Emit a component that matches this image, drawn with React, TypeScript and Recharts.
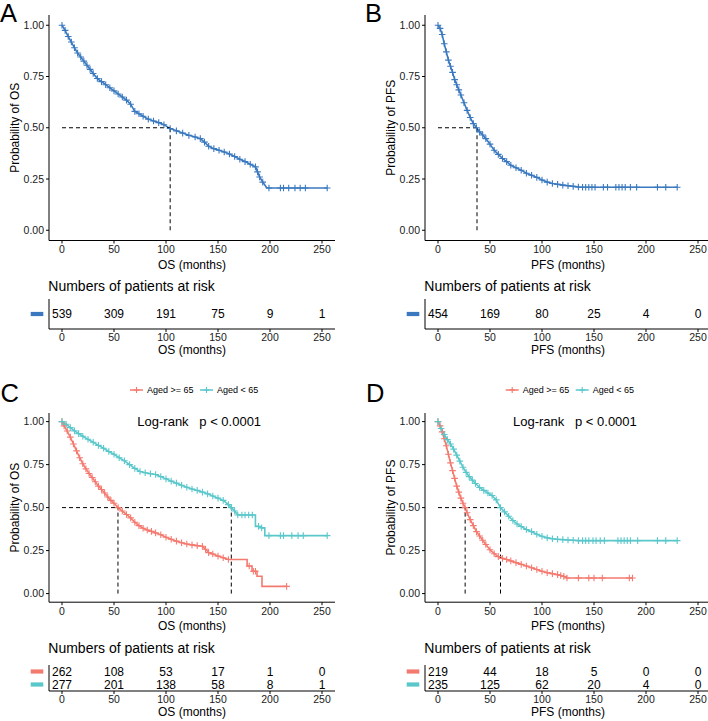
import React from "react";
import { ComposedChart, Line, XAxis, YAxis, ReferenceLine, ScatterChart, Scatter } from "recharts";

const BLUE = "#3A79BF";
const RED = "#F47A70";
const CYAN = "#5AC7CB";
const FONT = "'Liberation Sans', Arial, Helvetica, sans-serif";

const MONTH_TICKS = [0, 50, 100, 150, 200, 250];
const PROB_TICKS = [0, 0.25, 0.5, 0.75, 1];
const riskTimes = [0, 50, 100, 150, 200, 250];

// A - overall OS
const osAllTime = [0, 3, 6, 9, 12, 15, 18, 21, 24, 27, 30, 34, 38, 42, 46, 50, 54, 58, 62, 66, 70, 74, 78, 83, 88, 93, 98, 104, 110, 116, 122, 128, 133, 137, 141, 146, 151, 156, 161, 166, 171, 176, 181, 186, 188, 190, 193, 197, 199, 210, 213, 218, 224, 229, 234, 255];
const osAllSurv = [1.0, 0.975, 0.945, 0.918, 0.89, 0.865, 0.845, 0.825, 0.805, 0.785, 0.765, 0.74, 0.725, 0.71, 0.695, 0.68, 0.665, 0.65, 0.635, 0.615, 0.58, 0.568, 0.556, 0.542, 0.533, 0.525, 0.515, 0.496, 0.485, 0.474, 0.463, 0.455, 0.447, 0.43, 0.41, 0.398, 0.39, 0.382, 0.372, 0.36, 0.346, 0.335, 0.322, 0.309, 0.285, 0.26, 0.235, 0.206, 0.206, 0.206, 0.206, 0.206, 0.206, 0.206, 0.206, 0.206];
const osAllCens = [1, 1, 1, 1, 1, 1, 1, 1, 1, 1, 1, 1, 1, 1, 1, 1, 1, 1, 1, 1, 1, 1, 1, 1, 1, 1, 1, 1, 1, 1, 1, 1, 1, 1, 1, 1, 1, 1, 1, 1, 1, 1, 1, 1, 1, 1, 1, 0, 1, 1, 1, 1, 1, 1, 1, 1];
const osAllRisk = [539, 309, 191, 75, 9, 1];
const osAllMedian = [104];

// B - overall PFS
const pfsAllTime = [0, 2, 4, 6, 8, 10, 12, 14, 16, 18, 20, 22, 25, 28, 31, 34, 37, 40, 43, 46, 50, 54, 58, 62, 66, 70, 75, 80, 85, 90, 95, 100, 105, 110, 115, 120, 125, 130, 135, 139, 142, 145, 148, 151, 159, 163, 171, 174, 177, 180, 185, 191, 211, 219, 230];
const pfsAllSurv = [1.0, 0.985, 0.955, 0.91, 0.87, 0.83, 0.8, 0.77, 0.735, 0.71, 0.685, 0.66, 0.622, 0.585, 0.55, 0.52, 0.5, 0.48, 0.465, 0.447, 0.42, 0.39, 0.37, 0.35, 0.335, 0.317, 0.305, 0.293, 0.278, 0.268, 0.258, 0.245, 0.235, 0.228, 0.224, 0.22, 0.217, 0.214, 0.211, 0.21, 0.21, 0.21, 0.21, 0.21, 0.21, 0.21, 0.21, 0.21, 0.21, 0.21, 0.21, 0.21, 0.21, 0.21, 0.21];
const pfsAllCens = [1, 1, 1, 1, 1, 1, 1, 1, 1, 1, 1, 1, 1, 1, 1, 1, 1, 1, 1, 1, 1, 1, 1, 1, 1, 1, 1, 1, 1, 1, 1, 1, 1, 1, 1, 1, 1, 1, 1, 1, 1, 1, 1, 1, 1, 1, 1, 1, 1, 1, 1, 1, 1, 1, 1];
const pfsAllRisk = [454, 169, 80, 25, 4, 0];
const pfsAllMedian = [37.5];

// C - OS by age
const osOldTime = [0, 2, 5, 8, 11, 14, 17, 20, 23, 26, 29, 32, 35, 38, 41, 44, 47, 50, 54, 58, 62, 66, 70, 74, 78, 82, 86, 90, 95, 100, 105, 110, 115, 120, 125, 130, 135, 138, 141, 145, 150, 155, 160, 176, 178, 178, 180, 182.7, 182.7, 184, 186, 187.5, 187.5, 192.3, 192.3, 216];
const osOldSurv = [1.0, 0.975, 0.945, 0.91, 0.87, 0.83, 0.79, 0.755, 0.725, 0.698, 0.675, 0.65, 0.625, 0.605, 0.585, 0.562, 0.542, 0.525, 0.5, 0.48, 0.46, 0.44, 0.415, 0.395, 0.38, 0.37, 0.362, 0.353, 0.342, 0.328, 0.316, 0.305, 0.296, 0.288, 0.283, 0.279, 0.275, 0.258, 0.238, 0.23, 0.218, 0.208, 0.198, 0.198, 0.198, 0.16, 0.16, 0.16, 0.13, 0.13, 0.13, 0.13, 0.101, 0.101, 0.042, 0.042];
const osOldCens = [1, 1, 1, 1, 1, 1, 1, 1, 1, 1, 1, 1, 1, 1, 1, 1, 1, 1, 1, 1, 1, 1, 1, 1, 1, 1, 1, 1, 1, 1, 1, 1, 1, 1, 1, 1, 1, 1, 1, 1, 1, 1, 1, 0, 0, 0, 1, 0, 0, 1, 1, 0, 0, 0, 0, 1];
const osYoungTime = [0, 4, 8, 12, 16, 20, 25, 30, 35, 40, 45, 50, 55, 60, 65, 70, 75, 80, 85, 90, 95, 100, 105, 110, 115, 120, 125, 130, 135, 140, 145, 150, 155, 160, 163, 166, 169, 173, 176, 179.5, 183, 186, 186, 189, 192, 195, 195, 199, 210, 213, 221, 227, 232, 255];
const osYoungSurv = [1.0, 0.985, 0.965, 0.946, 0.93, 0.915, 0.897, 0.88, 0.862, 0.845, 0.826, 0.81, 0.79, 0.772, 0.75, 0.728, 0.71, 0.703, 0.697, 0.692, 0.68, 0.667, 0.654, 0.642, 0.63, 0.618, 0.608, 0.6, 0.59, 0.58, 0.567, 0.555, 0.542, 0.517, 0.5, 0.48, 0.457, 0.457, 0.457, 0.457, 0.457, 0.457, 0.391, 0.391, 0.382, 0.382, 0.337, 0.337, 0.337, 0.337, 0.337, 0.337, 0.337, 0.337];
const osYoungCens = [1, 1, 1, 1, 1, 1, 1, 1, 1, 1, 1, 1, 1, 1, 1, 1, 1, 1, 1, 1, 1, 1, 1, 1, 1, 1, 1, 1, 1, 1, 1, 1, 1, 1, 1, 1, 1, 1, 1, 1, 1, 0, 0, 1, 1, 0, 0, 1, 1, 1, 1, 1, 1, 1];
const osOldRisk = [262, 108, 53, 17, 1, 0];
const osYoungRisk = [277, 201, 138, 58, 8, 1];
const osAgeMedian = [53.8, 162.8];

// D - PFS by age
const pfsOldTime = [0, 2, 4, 6, 8, 10, 12, 14, 16, 18, 20, 22, 24, 26, 28, 31, 34, 37, 40, 43, 46, 50, 54, 58, 62, 66, 70, 75, 80, 85, 90, 95, 100, 105, 110, 115, 118, 121, 124, 135, 145, 150, 158, 184, 187];
const pfsOldSurv = [1.0, 0.975, 0.94, 0.9, 0.86, 0.81, 0.76, 0.715, 0.67, 0.625, 0.59, 0.555, 0.525, 0.5, 0.47, 0.43, 0.395, 0.36, 0.335, 0.31, 0.285, 0.255, 0.232, 0.215, 0.205, 0.198, 0.19, 0.18, 0.17, 0.16, 0.15, 0.14, 0.13, 0.122, 0.116, 0.11, 0.105, 0.1, 0.091, 0.091, 0.091, 0.091, 0.091, 0.091, 0.091];
const pfsOldCens = [1, 1, 1, 1, 1, 1, 1, 1, 1, 1, 1, 1, 1, 1, 1, 1, 1, 1, 1, 1, 1, 1, 1, 1, 1, 1, 1, 1, 1, 1, 1, 1, 1, 1, 1, 1, 1, 1, 1, 1, 1, 1, 1, 1, 1];
const pfsYoungTime = [0, 3, 6, 9, 12, 15, 18, 21, 24, 27, 30, 33, 36, 40, 44, 48, 52, 56, 60, 64, 68, 72, 76, 80, 85, 90, 95, 100, 105, 110, 115, 120, 125, 130, 135, 139, 142, 145, 149, 152, 156, 160, 173, 176, 179, 182, 185, 192, 211, 219, 230];
const pfsYoungSurv = [1.0, 0.96, 0.925, 0.895, 0.87, 0.84, 0.805, 0.77, 0.735, 0.705, 0.68, 0.66, 0.64, 0.617, 0.6, 0.585, 0.57, 0.545, 0.5, 0.475, 0.45, 0.425, 0.405, 0.39, 0.373, 0.36, 0.345, 0.333, 0.324, 0.319, 0.316, 0.314, 0.312, 0.31, 0.308, 0.308, 0.308, 0.308, 0.308, 0.308, 0.308, 0.308, 0.308, 0.308, 0.308, 0.308, 0.308, 0.308, 0.308, 0.308, 0.308];
const pfsYoungCens = [1, 1, 1, 1, 1, 1, 1, 1, 1, 1, 1, 1, 1, 1, 1, 1, 1, 1, 1, 1, 1, 1, 1, 1, 1, 1, 1, 1, 1, 1, 1, 1, 1, 1, 1, 1, 1, 1, 1, 1, 1, 1, 1, 1, 1, 1, 1, 1, 1, 1, 1];
const pfsOldRisk = [219, 44, 18, 5, 0, 0];
const pfsYoungRisk = [235, 125, 62, 20, 4, 0];
const pfsAgeMedian = [26.1, 60.1];

const OLD = "Aged >= 65";
const YOUNG = "Aged < 65";

type Curve = { name: string; color: string; time: number[]; surv: number[]; cens: number[] };
type RiskRow = { name: string; color: string; counts: number[] };

const toRows = (c: Curve) => c.time.map((t, i) => ({ t, s: c.surv[i], c: c.cens[i] }));

const tickStyle = { fill: "#1a1a1a", fontSize: 10.5 };

const censorDot = (color: string) => (p: any) => {
  const { cx, cy, payload, index } = p;
  if (!payload || !payload.c || cx == null || cy == null) return <g key={`n${index}`} />;
  return (
    <path key={`d${index}`} d={`M${cx - 3.3},${cy}h6.6M${cx},${cy - 3.3}v6.6`}
      stroke={color} strokeWidth={1.1} fill="none" />
  );
};

function KmPlot({ left, plotTop, plotBottom, curves, medians, xLabel, yLabel }: {
  left: number; plotTop: number; plotBottom: number; curves: Curve[];
  medians: number[]; xLabel: string; yLabel: string;
}) {
  const mt = 10;
  const xh = 32;
  const height = plotBottom - plotTop + mt + xh;
  const hMax = Math.max(...medians);
  return (
    <div style={{ position: "absolute", left, top: plotTop - mt }}>
      <ComposedChart width={340} height={height} margin={{ top: mt, right: 5, bottom: 0, left: 0 }}>
        <XAxis type="number" dataKey="t" domain={[-12.5, 262.5]} ticks={MONTH_TICKS} allowDataOverflow interval={0}
          tick={tickStyle} tickSize={3} tickMargin={2} stroke="#000" height={xh}
          label={{ value: xLabel, position: "insideBottom", offset: 4, fill: "#000", fontSize: 12 }} />
        <YAxis type="number" domain={[-0.05, 1.05]} ticks={PROB_TICKS} allowDataOverflow interval={0}
          tickFormatter={(v: number) => v.toFixed(2)} tick={tickStyle} tickSize={3} tickMargin={2}
          stroke="#000" width={49}
          label={{ value: yLabel, angle: -90, position: "insideLeft", offset: 15, fill: "#000", fontSize: 12, style: { textAnchor: "middle" } }} />
        {curves.map((c) => (
          <Line key={c.name} data={toRows(c)} dataKey="s" name={c.name} type="linear" stroke={c.color}
            strokeWidth={1.6} dot={censorDot(c.color)} activeDot={false} isAnimationActive={false} />
        ))}
        <ReferenceLine segment={[{ x: 0, y: 0.5 }, { x: hMax, y: 0.5 }]} stroke="#000" strokeDasharray="4 3" />
        {medians.map((m) => (
          <ReferenceLine key={m} segment={[{ x: m, y: 0 }, { x: m, y: 0.5 }]} stroke="#000" strokeDasharray="4 3" />
        ))}
      </ComposedChart>
    </div>
  );
}

function RiskTable({ left, plotTop, plotH, rows, xLabel }: {
  left: number; plotTop: number; plotH: number; rows: RiskRow[]; xLabel: string;
}) {
  const mt = 2;
  const xh = 28;
  const data = rows.flatMap((r) => riskTimes.map((t, i) => ({ t, g: r.name, n: r.counts[i] })));
  const colorOf: Record<string, string> = {};
  rows.forEach((r) => (colorOf[r.name] = r.color));
  return (
    <div style={{ position: "absolute", left, top: plotTop - mt }}>
      <ScatterChart width={340} height={plotH + mt + xh} margin={{ top: mt, right: 5, bottom: 0, left: 0 }}>
        <XAxis type="number" dataKey="t" domain={[-12.5, 262.5]} ticks={MONTH_TICKS} allowDataOverflow interval={0}
          tick={tickStyle} tickSize={3} tickMargin={2} stroke="#000" height={xh}
          label={{ value: xLabel, position: "insideBottom", offset: 3, fill: "#000", fontSize: 12 }} />
        <YAxis type="category" dataKey="g" width={49} reversed tickLine={false} tickSize={0} tickMargin={6}
          stroke="#000" allowDuplicatedCategory={false} interval={0}
          tick={(p: any) => (
            <rect key={`t${p.index}`} x={p.x - 12.3} y={p.y - 2.1} width={12.6} height={4.2}
              fill={colorOf[p.payload.value]} />
          )} />
        <Scatter data={data} isAnimationActive={false}
          shape={(p: any) => (
            <text x={p.cx} y={p.cy} dy="0.36em" textAnchor="middle" fontSize={12} fill="#000">
              {p.payload.n}
            </text>
          )} />
      </ScatterChart>
    </div>
  );
}

const osAll: Curve = { name: "All", color: BLUE, time: osAllTime, surv: osAllSurv, cens: osAllCens };
const pfsAll: Curve = { name: "All", color: BLUE, time: pfsAllTime, surv: pfsAllSurv, cens: pfsAllCens };
const osOld: Curve = { name: OLD, color: RED, time: osOldTime, surv: osOldSurv, cens: osOldCens };
const osYoung: Curve = { name: YOUNG, color: CYAN, time: osYoungTime, surv: osYoungSurv, cens: osYoungCens };
const pfsOld: Curve = { name: OLD, color: RED, time: pfsOldTime, surv: pfsOldSurv, cens: pfsOldCens };
const pfsYoung: Curve = { name: YOUNG, color: CYAN, time: pfsYoungTime, surv: pfsYoungSurv, cens: pfsYoungCens };

function AgeLegend({ dx }: { dx: number }) {
  const items = [
    { name: OLD, color: RED, x: 130 },
    { name: YOUNG, color: CYAN, x: 200 },
  ];
  return (
    <g transform={`translate(${dx},0)`}>
      {items.map((it) => (
        <g key={it.name}>
          <line x1={it.x} x2={it.x + 13} y1={390} y2={390} stroke={it.color} strokeWidth={1.5} />
          <path d={`M${it.x + 3.5},390h6M${it.x + 6.5},387v6`} stroke={it.color} strokeWidth={1.1} />
          <text x={it.x + 17} y={393.2} fontSize={9} fill="#000">{it.name}</text>
        </g>
      ))}
    </g>
  );
}

export default function App() {
  return (
    <div style={{ position: "fixed", left: 0, top: 0, width: 708, height: 721, overflow: "hidden", background: "#fff", fontFamily: FONT }}>
      <KmPlot left={0} plotTop={14.75} plotBottom={240.25} curves={[osAll]} medians={osAllMedian}
        xLabel="OS (months)" yLabel="Probability of OS" />
      <KmPlot left={376} plotTop={14.75} plotBottom={240.25} curves={[pfsAll]} medians={pfsAllMedian}
        xLabel="PFS (months)" yLabel="Probability of PFS" />
      <KmPlot left={0} plotTop={413.4} plotBottom={602.6} curves={[osOld, osYoung]} medians={osAgeMedian}
        xLabel="OS (months)" yLabel="Probability of OS" />
      <KmPlot left={376} plotTop={413.4} plotBottom={602.6} curves={[pfsOld, pfsYoung]} medians={pfsAgeMedian}
        xLabel="PFS (months)" yLabel="Probability of PFS" />

      <RiskTable left={0} plotTop={299} plotH={30} xLabel="OS (months)"
        rows={[{ name: "All", color: BLUE, counts: osAllRisk }]} />
      <RiskTable left={376} plotTop={299} plotH={30} xLabel="PFS (months)"
        rows={[{ name: "All", color: BLUE, counts: pfsAllRisk }]} />
      <RiskTable left={0} plotTop={665} plotH={26} xLabel="OS (months)"
        rows={[{ name: OLD, color: RED, counts: osOldRisk }, { name: YOUNG, color: CYAN, counts: osYoungRisk }]} />
      <RiskTable left={376} plotTop={665} plotH={26} xLabel="PFS (months)"
        rows={[{ name: OLD, color: RED, counts: pfsOldRisk }, { name: YOUNG, color: CYAN, counts: pfsYoungRisk }]} />

      <svg width={708} height={721} style={{ position: "absolute", left: 0, top: 0, pointerEvents: "none" }}>
        <g fill="#000" fontSize={25.5}>
          <text x={0} y={21.7}>A</text>
          <text x={365} y={21.7}>B</text>
          <text x={0.5} y={401.5}>C</text>
          <text x={366} y={401.5}>D</text>
        </g>
        <g fill="#000" fontSize={14}>
          <text x={48.3} y={290.5}>Numbers of patients at risk</text>
          <text x={424.3} y={290.5}>Numbers of patients at risk</text>
          <text x={48.3} y={653.3}>Numbers of patients at risk</text>
          <text x={424.3} y={653.3}>Numbers of patients at risk</text>
        </g>
        <g fill="#000" fontSize={13}>
          <text x={137.3} y={426}>Log-rank</text>
          <text x={199.3} y={426}>p &lt; 0.0001</text>
          <text x={513} y={426}>Log-rank</text>
          <text x={575} y={426}>p &lt; 0.0001</text>
        </g>
        <AgeLegend dx={0} />
        <AgeLegend dx={375.7} />
      </svg>
    </div>
  );
}
